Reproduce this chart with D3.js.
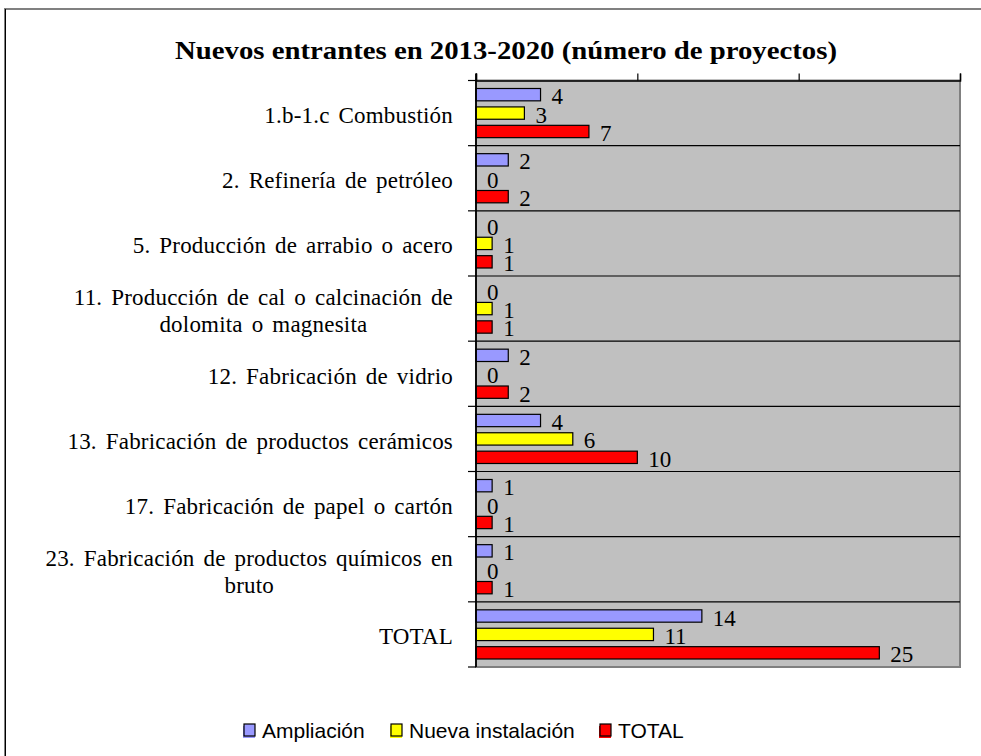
<!DOCTYPE html>
<html>
<head>
<meta charset="utf-8">
<script src="https://cdnjs.cloudflare.com/ajax/libs/d3/7.8.5/d3.min.js"></script>
<style>
  body { margin: 0; background: #fff; }
</style>
</head>
<body>
<div id="chart"></div>
<script>
// data
var categories = [
  "1.b-1.c Combustión",
  "2. Refinería de petróleo",
  "5. Producción de arrabio o acero",
  "11. Producción de cal o calcinación de|dolomita o magnesita",
  "12. Fabricación de vidrio",
  "13. Fabricación de productos cerámicos",
  "17. Fabricación de papel o cartón",
  "23. Fabricación de productos químicos en|bruto",
  "TOTAL"
];
var ampliacion = [4, 2, 0, 0, 2, 4, 1, 1, 14];
var nuevaInstalacion = [3, 0, 1, 1, 0, 6, 0, 0, 11];
var total = [7, 2, 1, 1, 2, 10, 1, 1, 25];
var seriesNames = ["Ampliación", "Nueva instalación", "TOTAL"];
var seriesColors = ["#9999FF", "#FFFF00", "#FF0000"];
var xTicks = [0, 10, 20, 30];

var W = 981, H = 756;
var plot = { left: 476, right: 960, top: 80.5, bottom: 667 };
var serif = "'Liberation Serif', 'Times New Roman', serif";

var svg = d3
  .select("#chart")
  .append("svg")
  .attr("width", W)
  .attr("height", H);

// outer chart frame
svg
  .append("rect")
  .attr("x", 5)
  .attr("y", 9)
  .attr("width", 1000)
  .attr("height", 800)
  .attr("fill", "none")
  .attr("stroke", "#808080")
  .attr("stroke-width", 2);
svg
  .append("line")
  .attr("x1", 5.5).attr("x2", 5.5)
  .attr("y1", 9).attr("y2", H)
  .attr("stroke", "#000")
  .attr("stroke-width", 1);

// title
svg
  .append("text")
  .attr("x", 506)
  .attr("y", 59)
  .attr("text-anchor", "middle")
  .attr("textLength", 662)
  .attr("lengthAdjust", "spacingAndGlyphs")
  .style("font-family", serif)
  .style("font-weight", "bold")
  .style("font-size", "25px")
  .text("Nuevos entrantes en 2013-2020 (número de proyectos)");

// scales
var x = d3.scaleLinear().domain([0, 30]).range([plot.left, plot.right]);
var y = d3
  .scaleBand()
  .domain(d3.range(categories.length))
  .range([plot.top, plot.bottom])
  .padding(0);
var inner = d3
  .scaleBand()
  .domain(d3.range(3))
  .range([8, y.bandwidth() - 8])
  .paddingInner(0.33)
  .paddingOuter(0);

// plot area background
svg
  .append("rect")
  .attr("x", plot.left)
  .attr("y", plot.top)
  .attr("width", plot.right - plot.left)
  .attr("height", plot.bottom - plot.top)
  .attr("fill", "#C0C0C0")
  .attr("stroke", "#808080")
  .attr("stroke-width", 2);

// horizontal grid lines between categories
svg
  .selectAll("gridLine")
  .data(d3.range(1, categories.length))
  .enter()
  .append("line")
  .attr("x1", plot.left)
  .attr("x2", plot.right)
  .attr("y1", function (d) { return y(d); })
  .attr("y2", function (d) { return y(d); })
  .attr("stroke", "#000")
  .attr("stroke-width", 1.2);

// top value axis (ticks only, no labels)
var topAxis = svg
  .append("g")
  .attr("transform", "translate(0," + plot.top + ")")
  .call(d3.axisTop(x).tickValues(xTicks).tickSize(7).tickFormat(""));
topAxis.select(".domain").attr("stroke", "#000").attr("stroke-width", 1.5);
topAxis.selectAll(".tick line").attr("stroke", "#000").attr("stroke-width", 1.2);

// left category axis: ticks at band boundaries
var boundaries = d3.range(categories.length + 1);
svg
  .selectAll("yTick")
  .data(boundaries)
  .enter()
  .append("line")
  .attr("x1", plot.left - 8)
  .attr("x2", plot.left)
  .attr("y1", function (d) { return d < categories.length ? y(d) : plot.bottom; })
  .attr("y2", function (d) { return d < categories.length ? y(d) : plot.bottom; })
  .attr("stroke", "#000")
  .attr("stroke-width", 1.2);

// category labels
var labels = svg
  .selectAll("catLabel")
  .data(categories)
  .enter()
  .append("text")
  .attr("text-anchor", "middle")
  .style("font-family", serif)
  .style("font-size", "23px")
  .style("letter-spacing", "0.2px")
  .style("word-spacing", "3px")
  .attr("fill", "#000");

labels.each(function (d, i) {
  var lines = d.split("|");
  var el = d3.select(this);
  var cy = y(i) + y.bandwidth() / 2;
  var lh = 27;
  var firstBase = cy + 10 - ((lines.length - 1) * lh) / 2;
  lines.forEach(function (t, j) {
    el.append("tspan").attr("y", firstBase + j * lh).text(t);
  });
  // right-align the block, lines centred inside it
  var wMax = d3.max(el.selectAll("tspan").nodes(), function (n) {
    return n.getComputedTextLength();
  });
  el.selectAll("tspan").attr("x", 453 - wMax / 2);
});

// bars
var series = [ampliacion, nuevaInstalacion, total];
var barData = [];
series.forEach(function (vals, s) {
  vals.forEach(function (v, i) {
    barData.push({ s: s, i: i, v: v });
  });
});

svg
  .selectAll("myRect")
  .data(barData.filter(function (d) { return d.v > 0; }))
  .enter()
  .append("rect")
  .attr("x", x(0))
  .attr("y", function (d) { return y(d.i) + inner(d.s); })
  .attr("width", function (d) { return x(d.v) - x(0); })
  .attr("height", inner.bandwidth())
  .attr("fill", function (d) { return seriesColors[d.s]; })
  .attr("stroke", "#000")
  .attr("stroke-width", 1.2);

// left axis line drawn over bars
svg
  .append("line")
  .attr("x1", plot.left)
  .attr("x2", plot.left)
  .attr("y1", plot.top - 7)
  .attr("y2", plot.bottom)
  .attr("stroke", "#000")
  .attr("stroke-width", 1.8);

// value labels
svg
  .selectAll("valLabel")
  .data(barData)
  .enter()
  .append("text")
  .attr("x", function (d) { return x(d.v) + 11; })
  .attr("y", function (d) { return y(d.i) + inner(d.s) + inner.bandwidth() / 2 + 9.5; })
  .style("font-family", serif)
  .style("font-size", "23px")
  .attr("fill", "#000")
  .text(function (d) { return d.v; });

// legend
var legendX = [244, 391, 600];
var legend = svg
  .selectAll("legendItem")
  .data(seriesNames)
  .enter()
  .append("g")
  .attr("transform", function (d, i) { return "translate(" + legendX[i] + ",724)"; });
legend
  .append("rect")
  .attr("x", -1)
  .attr("y", 2)
  .attr("width", 12)
  .attr("height", 12)
  .attr("fill", function (d, i) { return seriesColors[i]; });
legend
  .append("rect")
  .attr("x", 0)
  .attr("y", 0)
  .attr("width", 11)
  .attr("height", 12)
  .attr("fill", function (d, i) { return seriesColors[i]; })
  .attr("stroke", "#000")
  .attr("stroke-width", 1.2);
legend
  .append("text")
  .attr("x", 18)
  .attr("y", 14)
  .style("font-family", "'Liberation Sans', Arial, sans-serif")
  .style("font-size", "21px")
  .attr("fill", "#000")
  .text(function (d) { return d; });
</script>
</body>
</html>
